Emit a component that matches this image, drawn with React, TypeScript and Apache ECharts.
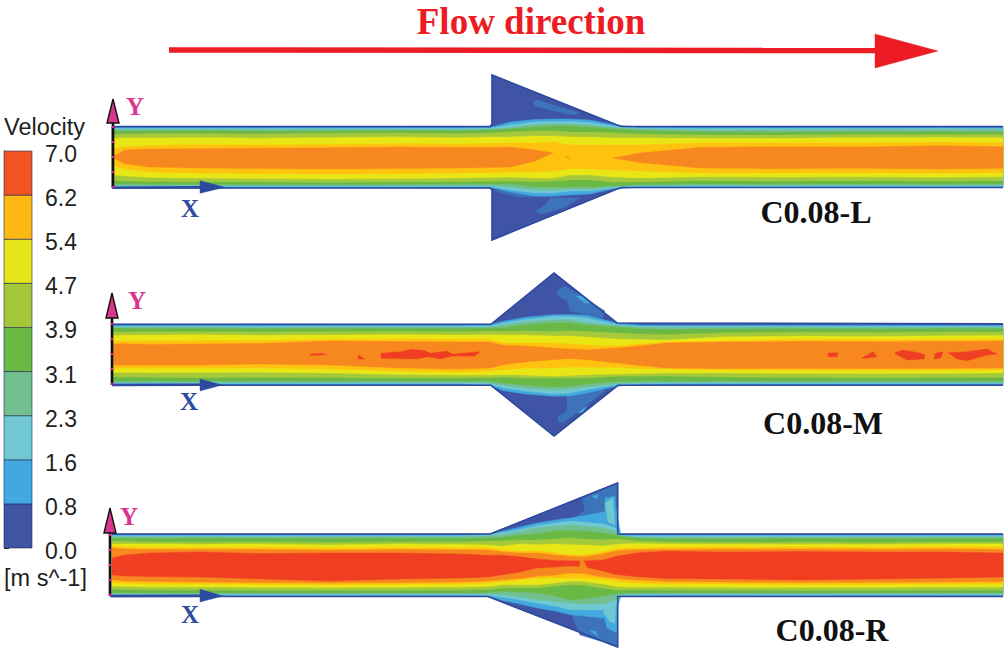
import React, { useEffect, useRef } from "react";
import * as echarts from "echarts";

// ---- legend ----
const LEGEND_TICKS = ["0.0", "0.8", "1.6", "2.3", "3.1", "3.9", "4.7", "5.4", "6.2", "7.0"];
const LEGEND_STEP = 7 / 9;
const LEGEND_COLORS = ["#3f55a4", "#41a9df", "#72c8d2", "#72bf8f", "#6ab945", "#a5c83b", "#e6e51b", "#fdb813", "#f15423"];

// ---- contour colours ----
const DARK = "#3f54a4";
const MEDIUM = "#3d74b9";
const BLUE = "#41a9df";
const CYAN = "#70c8d0";
const TEAL = "#72bf8f";
const GREEN = "#6ab945";
const YGREEN = "#a5c93a";
const YELLOW = "#e9e616";
const AMBER = "#ffc20e";
const ORANGE = "#f7871f";
const RED = "#f03e22";
const WALL = "#2c4a9f";
const BAND_COLORS = [BLUE, CYAN, TEAL, GREEN, YGREEN, YELLOW, AMBER, ORANGE, RED];

// ---- panel L ----
const L_X = [112, 125, 150, 200, 260, 330, 400, 460, 490, 510, 535, 553, 570, 590, 613, 640, 700, 780, 860, 940, 1003];
const L_BLUE_T = [127.4, 127.4, 127.4, 127.4, 127.4, 127.4, 127.4, 127.4, 127.4, 122, 119.5, 119, 119, 120, 124.5, 127.4, 127.4, 127.4, 127.4, 127.4, 127.4];
const L_CYAN_T = [128.4, 128.4, 128.5, 128.4, 128.5, 128.4, 128.3, 128.4, 128, 125, 122, 121.5, 121.5, 122.5, 126, 128.2, 128.4, 128.5, 128.4, 128.3, 128.4];
const L_TEAL_T = [129.5, 129.6, 129.6, 129.5, 129.7, 129.5, 129.4, 129.5, 129, 128, 124.5, 124, 124, 125, 127.5, 129, 130, 130, 129.8, 129.7, 129.8];
const L_GREEN_T = [131, 131.2, 131, 130.8, 131.3, 131, 130.6, 130.8, 130, 129, 127, 126, 126, 127.5, 129, 130.5, 132, 132.3, 132, 131.8, 132];
const L_YGREEN_T = [134.5, 134, 133.7, 133.4, 134, 133.3, 133, 133.5, 133, 132, 131, 131, 132, 132, 133, 134, 135, 135, 134.6, 134.4, 134.6];
const L_YELLOW_T = [138.5, 138, 138, 137.5, 138.2, 137.5, 137, 137.8, 137, 137, 136, 136, 137, 137, 138, 138, 138.3, 138.3, 137.8, 137.4, 137.8];
const L_AMBER_T = [149, 147, 145.5, 144.7, 145, 144.5, 143.7, 144, 143.5, 143, 143, 142, 145, 145, 145, 145, 143, 142.7, 143, 142.3, 142.8];
const L_ORANGE_T = [157, 150, 149, 148.7, 148.2, 147.8, 147, 147.5, 147.5, 147, 150, 153, 157, 157, 158, 153, 147.5, 146.7, 147, 145.8, 146.7];
const L_ORANGE_B = [157, 164, 167, 168, 168.6, 169, 168.6, 168, 167.5, 167, 161, 153, 157, 157, 158, 162.5, 168, 168.6, 168.3, 169, 168.3];
const L_AMBER_B = [165, 169, 172, 173, 173.5, 174, 173.5, 173, 172.5, 172, 172, 171.5, 168.5, 169, 170, 171, 172.7, 173, 172.7, 173.2, 172.7];
const L_YELLOW_B = [175, 176, 177.5, 178, 178.5, 179, 178.5, 178, 177.5, 177, 178, 178, 175, 175, 177, 178, 176.7, 177, 176.7, 177.2, 176.7];
const L_YGREEN_B = [180.5, 181, 181.5, 181.7, 182, 182.2, 182, 181.7, 181.3, 181, 181.7, 181, 180, 180, 182, 182, 180.7, 181, 180.7, 181, 180.7];
const L_GREEN_B = [184, 184, 184.2, 184.2, 184.4, 184.5, 184.3, 184.2, 184, 184, 186.7, 187, 187, 187, 185.5, 184.5, 184, 184.2, 184, 184.2, 184];
const L_TEAL_B = [185.5, 185.5, 185.5, 185.5, 185.6, 185.6, 185.5, 185.5, 185.5, 187, 190, 190, 189, 189, 187, 185.5, 185.2, 185.2, 185.2, 185.2, 185.2];
const L_CYAN_B = [186.5, 186.5, 186.5, 186.5, 186.6, 186.6, 186.5, 186.5, 186.5, 190, 193, 193, 191, 191, 188, 186.5, 186.6, 186.6, 186.6, 186.6, 186.6];
const L_BLUE_B = [187.4, 187.4, 187.4, 187.4, 187.4, 187.4, 187.4, 187.4, 187.5, 192, 196, 196, 195, 194, 189, 187.5, 187.4, 187.4, 187.4, 187.4, 187.4];
const L_WALL_T = [[112, 126.5], [490, 126.5], [492, 124], [492, 75], [617, 125], [622, 126.5], [1003, 126.5]];
const L_WALL_B = [[112, 188], [490, 188], [492, 190], [492, 240], [617, 189], [622, 187.5], [1003, 187.5]];
const L_PATCH_1 = [[533, 102], [538, 100], [553, 105], [580, 113], [573, 115], [550, 110], [535, 106]];
const L_PATCH_2 = [[535, 212], [547, 203], [550, 198], [580, 198], [563, 208], [542, 214]];
const L_PATCH_3 = [[495, 191], [517, 197], [560, 197], [540, 191]];
const L_SPECK_1 = [[565, 155], [570, 159], [566.7, 157.6]];

// ---- panel M ----
const M_X = [112, 125, 150, 200, 260, 330, 400, 460, 490, 503, 525, 553, 570, 587, 617, 640, 667, 720, 800, 880, 950, 1003];
const M_BLUE_T = [325.2, 325.2, 325.2, 325.2, 325.2, 325.2, 325.2, 325.2, 324.5, 321.3, 317.3, 314.7, 314.5, 315.3, 323, 325, 325.2, 325.2, 325.2, 325.2, 325.2, 325.2];
const M_CYAN_T = [326.3, 326.3, 326.3, 326.2, 326.4, 326.3, 326.2, 326.3, 326, 323, 319.5, 316.5, 316.5, 318, 324.5, 326.3, 326.3, 326.3, 326.2, 326.3, 326.3, 326.3];
const M_TEAL_T = [327.2, 327.2, 327.3, 327.2, 327.4, 327.2, 327.2, 327.2, 327, 325.3, 322, 320, 320, 323, 325.5, 327, 327.5, 327.4, 327.3, 327.4, 327.3, 327.3];
const M_GREEN_T = [328.5, 328.6, 328.5, 328.4, 328.7, 328.5, 328.3, 328.5, 328, 328, 325, 323, 323, 325.3, 327.3, 329, 329.7, 329, 328.8, 329, 328.8, 328.7];
const M_YGREEN_T = [332, 332, 331.8, 331.7, 332, 331.7, 331.5, 331.7, 331.3, 331.3, 331, 331.5, 331, 331.5, 333, 334, 334.5, 333, 332.2, 332.4, 332, 332];
const M_YELLOW_T = [335.5, 335.2, 335, 334.8, 335.2, 335, 334.7, 335, 334.8, 335, 335, 336, 336, 337, 339, 339.5, 340, 337, 336, 336.2, 335.8, 335.6];
const M_AMBER_T = [341.5, 341, 340.8, 340.5, 340.8, 339.5, 339, 339.5, 339.5, 343, 343, 343, 344, 345, 346, 344, 342, 341, 339.5, 339.8, 339.5, 339.3];
const M_ORANGE_T = [344, 343.7, 344.5, 344, 343.5, 341, 341.5, 342, 342, 345.3, 346, 348, 349, 350, 348, 346, 343, 342, 341.5, 341.7, 341.5, 341];
const M_ORANGE_B = [365, 365, 365, 365, 364, 365, 368, 369, 368, 364.7, 362, 359.7, 358.5, 359.7, 363, 365.5, 368, 368.5, 368.3, 368.5, 368.2, 368];
const M_AMBER_B = [368, 368, 368.3, 368, 368, 369, 371, 372, 371, 369.7, 368, 368, 367, 367.3, 367.3, 368.5, 369, 370, 370, 370.2, 370, 369.8];
const M_YELLOW_B = [372.5, 372.5, 372.7, 372.5, 372.3, 373, 374.5, 375, 375, 374.7, 375, 376.3, 375.5, 374.7, 374, 373.5, 373, 373, 373.5, 373.7, 373.3, 373];
const M_YGREEN_B = [377, 377, 377.3, 377.7, 377.3, 377.5, 378, 378, 377.7, 377.3, 378, 378, 378, 378, 376.3, 376.3, 376, 377, 377.5, 377.7, 377.4, 377.2];
const M_GREEN_B = [381, 381, 381, 381, 381, 381, 381, 381, 381, 383, 385, 387, 386, 384, 381.3, 381, 381, 381, 381, 381, 381, 381];
const M_TEAL_B = [382.5, 382.5, 382.5, 382.5, 382.5, 382.5, 382.5, 382.5, 383, 385.3, 388, 390, 389, 387, 383.7, 383, 382.6, 382.5, 382.5, 382.5, 382.5, 382.5];
const M_CYAN_B = [383.6, 383.6, 383.6, 383.6, 383.6, 383.6, 383.6, 383.7, 384.5, 388, 391, 394, 393, 389.7, 384.7, 383.8, 383.6, 383.6, 383.6, 383.6, 383.6, 383.6];
const M_BLUE_B = [384.6, 384.6, 384.6, 384.6, 384.6, 384.6, 384.6, 384.6, 385, 390.7, 394, 396.3, 396, 393, 386.3, 384.7, 384.6, 384.6, 384.6, 384.6, 384.6, 384.6];
const M_WALL_T = [[112, 324.3], [491, 324.3], [554, 273], [617, 323], [1003, 323.7]];
const M_WALL_B = [[112, 385.3], [491, 385.3], [554, 436], [618, 385.3], [1003, 385.3]];
const M_PATCH_1 = [[557, 291], [565, 286], [605, 311], [602, 318], [570, 311], [567, 301], [558, 296]];
const M_PATCH_2 = [[558, 421], [563, 423], [605, 391], [602, 388], [567, 396], [567, 411], [558, 416]];
const M_SPOT_1 = [[576, 296], [582, 296], [590, 303], [585, 303]];
const M_SPOT_2 = [[577, 413], [587, 406], [583, 412]];
const M_RED_1 = [[381, 353.3], [400, 351.7], [411.7, 349.3], [425, 350.7], [430, 353.3], [446.7, 351], [453, 354], [480, 351.7], [475, 356], [453, 356], [440, 359], [428, 356.7], [417, 359], [381, 358.3]];
const M_RED_2 = [[358.3, 355], [365, 359], [358, 359]];
const M_RED_3 = [[310, 354], [322, 353.5], [327, 355], [310, 355.2]];
const M_RED_4 = [[828, 353], [838, 352.7], [837, 356.7], [828, 356.7]];
const M_RED_5 = [[862, 358], [873, 351.7], [877, 356.7], [863, 358.5]];
const M_RED_6 = [[895, 352.7], [903, 350], [920, 353], [925, 355], [924, 359], [907, 360], [895, 354]];
const M_RED_7 = [[935, 354], [940, 351.7], [943, 352.7], [940.7, 358], [934, 359]];
const M_RED_8 = [[948, 352.7], [967, 351.7], [987, 349], [997, 354], [987, 355], [967, 360.7], [957, 359]];

// ---- panel R ----
const R_X = [112, 125, 150, 200, 260, 330, 400, 460, 488, 503, 520, 537, 555, 570, 583, 603, 616, 621, 637, 667, 720, 800, 880, 950, 1003];
const R_BLUE_T = [534.9, 534.9, 534.9, 534.9, 534.9, 534.9, 534.9, 534.9, 534.5, 531, 527, 523, 520, 518, 516, 512, 509, 535, 535, 534.9, 534.9, 534.9, 534.9, 534.9, 534.9];
const R_CYAN_T = [535.7, 535.7, 535.8, 535.7, 535.8, 535.7, 535.7, 535.7, 535, 532.3, 529.5, 525.5, 523, 521, 522, 524, 528, 535.7, 535.8, 535.8, 535.8, 535.8, 535.8, 535.8, 535.8];
const R_TEAL_T = [536.7, 536.8, 536.7, 536.7, 536.8, 536.7, 536.6, 536.7, 536, 534.7, 532, 528, 526.5, 525, 526, 528, 531, 536, 537.3, 537.2, 537, 536.9, 537, 536.8, 536.8];
const R_GREEN_T = [538.5, 538.5, 538.4, 538.3, 538.6, 538.4, 538.3, 538.5, 538, 537.3, 535, 534, 531, 530.7, 531, 533, 535, 536, 538, 539, 539, 538.5, 538.7, 538.5, 538.5];
const R_YGREEN_T = [541, 541.5, 542, 542.3, 542, 542.5, 542, 542, 541, 541, 540, 540, 539, 538, 539, 540, 539, 539.5, 541, 542, 542.5, 542.3, 542.5, 542, 542];
const R_YELLOW_T = [544, 544, 544, 544.3, 544, 545, 544, 544.5, 545, 546.3, 544, 544.7, 544, 544.7, 545, 546, 544.5, 544, 543.5, 544, 544.2, 544.3, 544.5, 544, 544];
const R_AMBER_T = [546, 547, 547.5, 547.7, 547.3, 548.2, 547.7, 548, 548, 549.7, 551, 551, 553, 555, 555, 552, 549, 548.5, 548, 547.2, 547, 547, 547.2, 546.8, 547];
const R_ORANGE_T = [548, 549, 549.5, 549.3, 549.5, 550, 549.5, 549.7, 550, 552, 553, 553, 555, 556.3, 557, 554, 551, 550.5, 549.7, 549.5, 549, 549, 549.2, 549, 549.5];
const R_RED_T = [558, 555, 553, 552, 553.5, 553, 553, 554, 555.3, 555.3, 556.7, 559, 560.5, 560.7, 561, 560, 556.5, 555.5, 553, 551, 552, 551.5, 552, 552, 553];
const R_RED_B = [575, 576, 576.5, 577, 579, 581, 579, 578, 577, 574.7, 572, 568, 567, 566, 566.5, 571, 574.5, 575, 576.7, 578.5, 579, 580, 579, 578, 577];
const R_ORANGE_B = [580, 581, 581.5, 582, 582.5, 583, 582.5, 582, 581, 579.7, 578.5, 576.3, 575, 573, 573.5, 577, 578, 579, 580, 581.5, 582, 582.5, 582.3, 582, 581.5];
const R_AMBER_B = [582.5, 583.3, 583.8, 584, 584.3, 585, 584.3, 584, 583, 581.3, 580, 578, 578, 578, 578, 579, 581, 582, 583, 584, 584, 584.5, 584.3, 584, 583.8];
const R_YELLOW_B = [586, 586.5, 587, 587, 587.3, 587.5, 587.3, 587, 586.5, 584.7, 584.7, 584.7, 583, 581.3, 581.5, 584, 586.5, 587, 587, 587, 587.3, 587.5, 587.3, 587, 587];
const R_YGREEN_B = [589, 589.5, 590, 590, 590.3, 590.3, 590.2, 590, 589.5, 588, 588, 588, 586, 584.7, 585, 588, 590, 590, 590, 590, 590.2, 590.4, 590.2, 590, 590];
const R_GREEN_B = [592.5, 592.6, 592.7, 592.7, 592.8, 592.8, 592.7, 592.7, 592.5, 591.3, 592, 593, 596, 599.7, 599, 596, 593.5, 593, 592.7, 592.6, 592.7, 592.8, 592.7, 592.6, 592.6];
const R_TEAL_B = [594, 594, 594, 594, 594, 594, 594, 594, 594, 594.7, 597, 599.7, 601.5, 603, 604, 604, 600, 594.5, 593.9, 593.9, 594, 594, 594, 594, 594];
const R_CYAN_B = [595.2, 595.2, 595.2, 595.2, 595.2, 595.2, 595.2, 595.2, 595.3, 597.3, 600, 603, 606, 609.7, 610, 610, 606, 595.4, 595.3, 595.2, 595.2, 595.2, 595.2, 595.2, 595.2];
const R_BLUE_B = [595.8, 595.8, 595.8, 595.8, 595.8, 595.8, 595.8, 595.8, 596, 600.7, 604, 608, 611, 614.7, 616, 618, 612, 596, 596, 595.8, 595.8, 595.8, 595.8, 595.8, 595.8];
const R_WALL_T = [[112, 534], [490, 534], [617.7, 483], [617.7, 534], [1003, 534]];
const R_WALL_B = [[112, 596.5], [488, 596.5], [617.7, 647], [617.7, 596.5], [1003, 596.5]];
const R_PATCH_1 = [[582, 498], [597, 491], [617, 484], [617, 534], [570, 520], [585, 511]];
const R_PATCH_2 = [[605, 498], [615, 496], [617, 533], [605, 517]];
const R_PATCH_3 = [[605, 503], [613, 498], [615, 525], [608, 522]];
const R_SPOT_1 = [[592, 496], [598, 495], [597, 499]];
const R_PATCH_4 = [[580, 635], [617, 646], [617, 597], [570, 611]];
const R_PATCH_5 = [[603, 613], [617, 600], [617, 633], [607, 628]];
const R_PATCH_6 = [[603, 612], [616, 600], [615, 623], [610, 622]];
const R_SPOT_2 = [[590, 631], [598, 636], [595, 631]];
const R_SLIVER = [[580, 559.7], [583, 559.7], [590, 573], [585, 570], [580, 568]];

// ---- axis glyphs and flow arrow ----
const FLOW_LINE = [[169, 50], [876, 50.5]];
const FLOW_HEAD = [[875, 34], [938, 51], [875, 68]];
const L_X_LINE = [[112, 187.6], [205, 187.2]];
const L_X_HEAD = [[200, 180.7], [225, 187.3], [200, 193.3]];
const L_Y_LINE = [[113, 188], [113, 122]];
const L_Y_HEAD = [[107, 123], [113, 99], [119, 123]];
const M_X_LINE = [[112, 385], [205, 384.8]];
const M_X_HEAD = [[200, 379], [222, 385], [200, 391]];
const M_Y_LINE = [[112, 385], [112, 318]];
const M_Y_HEAD = [[106, 318], [112, 293], [118, 318]];
const R_X_LINE = [[110, 596], [205, 595.8]];
const R_X_HEAD = [[200, 589.3], [223, 596], [200, 602]];
const R_Y_LINE = [[110, 596], [110, 533]];
const R_Y_HEAD = [[104, 533], [110, 508], [116, 533]];

// ---- texts ----
const TITLE = "Flow direction";
const CASE_LABELS = ["C0.08-L", "C0.08-M", "C0.08-R"];
const LEGEND_TITLE = "Velocity";
const LEGEND_UNIT = "[m s^-1]";

type Shape = { pts: number[][]; fill?: string; stroke?: string; lw?: number; dash?: number[] };

function bands(xs: number[], tops: number[][], bots: number[][]): Shape[] {
  const out: Shape[] = [];
  tops.forEach((top, k) => {
    const bot = bots[k];
    let run: number[] = [];
    const flush = () => {
      if (run.length > 1) {
        const pts = run.map((i) => [xs[i], top[i]]).concat(run.slice().reverse().map((i) => [xs[i], bot[i]]));
        out.push({ pts, fill: BAND_COLORS[k], stroke: BAND_COLORS[k], lw: 0.4 });
      }
      run = [];
    };
    xs.forEach((_, i) => {
      const open = (j: number) => j >= 0 && j < xs.length && bot[j] - top[j] > 0;
      if (open(i) || open(i - 1) || open(i + 1)) run.push(i);
      else flush();
    });
    flush();
  });
  return out;
}

const fillOf = (pts: number[][], fill: string): Shape => ({ pts, fill, stroke: fill, lw: 0.4 });
const glyph = (line: number[][], head: number[][], color: string): Shape[] => [
  { pts: line, stroke: color, lw: 2.4 },
  fillOf(head, color),
];
const yGlyph = (line: number[][], head: number[][]): Shape[] => [
  { pts: line, stroke: "#111111", lw: 2.6 },
  { pts: line, stroke: "#e0218a", lw: 2.6, dash: [2, 13] },
  { pts: head, fill: "#d9368f", stroke: "#111111", lw: 1.4 },
];
const body = (t: number[][], b: number[][]): Shape => fillOf(t.concat(b.slice().reverse()), DARK);
const walls = (t: number[][], b: number[][]): Shape[] => [
  { pts: t, stroke: WALL, lw: 1.6 },
  { pts: b, stroke: WALL, lw: 1.6 },
];

const SHAPES: Shape[] = [
  { pts: FLOW_LINE, stroke: "#ed1c24", lw: 5.5 },
  fillOf(FLOW_HEAD, "#ed1c24"),
  // L
  body(L_WALL_T, L_WALL_B),
  fillOf(L_PATCH_1, MEDIUM), fillOf(L_PATCH_2, MEDIUM), fillOf(L_PATCH_3, MEDIUM),
  ...bands(L_X,
    [L_BLUE_T, L_CYAN_T, L_TEAL_T, L_GREEN_T, L_YGREEN_T, L_YELLOW_T, L_AMBER_T, L_ORANGE_T],
    [L_BLUE_B, L_CYAN_B, L_TEAL_B, L_GREEN_B, L_YGREEN_B, L_YELLOW_B, L_AMBER_B, L_ORANGE_B]),
  fillOf(L_SPECK_1, ORANGE),
  ...walls(L_WALL_T, L_WALL_B),
  ...glyph(L_X_LINE, L_X_HEAD, WALL),
  ...yGlyph(L_Y_LINE, L_Y_HEAD),
  // M
  body(M_WALL_T, M_WALL_B),
  fillOf(M_PATCH_1, MEDIUM), fillOf(M_PATCH_2, MEDIUM), fillOf(M_SPOT_1, BLUE), fillOf(M_SPOT_2, BLUE),
  ...bands(M_X,
    [M_BLUE_T, M_CYAN_T, M_TEAL_T, M_GREEN_T, M_YGREEN_T, M_YELLOW_T, M_AMBER_T, M_ORANGE_T],
    [M_BLUE_B, M_CYAN_B, M_TEAL_B, M_GREEN_B, M_YGREEN_B, M_YELLOW_B, M_AMBER_B, M_ORANGE_B]),
  ...[M_RED_1, M_RED_2, M_RED_3, M_RED_4, M_RED_5, M_RED_6, M_RED_7, M_RED_8].map((p) => fillOf(p, RED)),
  ...walls(M_WALL_T, M_WALL_B),
  ...glyph(M_X_LINE, M_X_HEAD, WALL),
  ...yGlyph(M_Y_LINE, M_Y_HEAD),
  // R
  body(R_WALL_T, R_WALL_B),
  fillOf(R_PATCH_1, MEDIUM), fillOf(R_PATCH_4, MEDIUM), fillOf(R_PATCH_2, BLUE), fillOf(R_PATCH_5, BLUE),
  ...bands(R_X,
    [R_BLUE_T, R_CYAN_T, R_TEAL_T, R_GREEN_T, R_YGREEN_T, R_YELLOW_T, R_AMBER_T, R_ORANGE_T, R_RED_T],
    [R_BLUE_B, R_CYAN_B, R_TEAL_B, R_GREEN_B, R_YGREEN_B, R_YELLOW_B, R_AMBER_B, R_ORANGE_B, R_RED_B]),
  fillOf(R_PATCH_3, CYAN), fillOf(R_PATCH_6, CYAN), fillOf(R_SPOT_1, BLUE), fillOf(R_SPOT_2, BLUE),
  fillOf(R_SLIVER, ORANGE),
  ...walls(R_WALL_T, R_WALL_B),
  ...glyph(R_X_LINE, R_X_HEAD, WALL),
  ...yGlyph(R_Y_LINE, R_Y_HEAD),
];

type Label = { x: number; y: number; text: string; color: string; size: number; serif: boolean };
const SERIF = "'Liberation Serif', serif";
const SANS = "'Liberation Sans', sans-serif";
const LABELS: Label[] = [
  { x: 531, y: 21, text: TITLE, color: "#ed1c24", size: 37, serif: true },
  { x: 816, y: 212, text: CASE_LABELS[0], color: "#111111", size: 32, serif: true },
  { x: 823, y: 423, text: CASE_LABELS[1], color: "#111111", size: 32, serif: true },
  { x: 832, y: 630, text: CASE_LABELS[2], color: "#111111", size: 32, serif: true },
  { x: 135, y: 106, text: "Y", color: "#d9368f", size: 25, serif: true },
  { x: 137, y: 300, text: "Y", color: "#d9368f", size: 25, serif: true },
  { x: 129, y: 516, text: "Y", color: "#d9368f", size: 25, serif: true },
  { x: 190, y: 208, text: "X", color: "#2f4da0", size: 25, serif: true },
  { x: 189, y: 401, text: "X", color: "#2f4da0", size: 25, serif: true },
  { x: 190, y: 614, text: "X", color: "#2f4da0", size: 25, serif: true },
  { x: 44.5, y: 127, text: LEGEND_TITLE, color: "#231f20", size: 23.5, serif: false },
  { x: 45.5, y: 578, text: LEGEND_UNIT, color: "#231f20", size: 23.5, serif: false },
];

export default function App() {
  const ref = useRef<HTMLDivElement>(null);
  useEffect(() => {
    const chart = echarts.init(ref.current!, undefined, { renderer: "svg" });
    chart.setOption({
      animation: false,
      backgroundColor: "#ffffff",
      grid: [
        { left: 0, top: 0, width: 1005, height: 652 },
        { left: 4, top: 151, width: 28, height: 397 },
      ],
      xAxis: [
        { type: "value", gridIndex: 0, min: 0, max: 1005, show: false },
        { type: "value", gridIndex: 1, min: 0, max: 1, show: false },
      ],
      yAxis: [
        { type: "value", gridIndex: 0, min: 0, max: 652, inverse: true, show: false },
        {
          type: "value",
          gridIndex: 1,
          position: "right",
          min: 0,
          max: 7,
          interval: LEGEND_STEP,
          splitLine: { show: false },
          axisLine: { show: true, lineStyle: { color: "#1c2a5a", width: 1 } },
          axisTick: { show: true, length: 5, lineStyle: { color: "#333333", width: 1 } },
          axisLabel: { show: false },
        },
      ],
      series: [
        {
          type: "custom",
          xAxisIndex: 1,
          yAxisIndex: 1,
          silent: true,
          encode: { x: 0, y: 1 },
          data: LEGEND_COLORS.map((_, i) => [0, i * LEGEND_STEP, i]),
          renderItem: (_: any, api: any) => {
            const i = api.value(2);
            const a = api.coord([0, i * LEGEND_STEP]);
            const b = api.coord([1, (i + 1) * LEGEND_STEP]);
            return {
              type: "rect",
              shape: { x: a[0], y: b[1], width: b[0] - a[0], height: a[1] - b[1] },
              style: { fill: LEGEND_COLORS[i], stroke: "#1c2a5a", lineWidth: 0.6 },
            };
          },
        },
        {
          type: "custom",
          xAxisIndex: 1,
          yAxisIndex: 1,
          silent: true,
          encode: { x: 0, y: 1 },
          data: LEGEND_TICKS.map((_, i) => [1, i * LEGEND_STEP, i]),
          renderItem: (_: any, api: any) => {
            const i = api.value(2);
            const p = api.coord([1, i * LEGEND_STEP]);
            return {
              type: "text",
              x: p[0] + 13,
              y: p[1] + 3,
              style: {
                text: LEGEND_TICKS[i],
                fill: "#231f20",
                align: "left",
                verticalAlign: "middle",
                font: `23px ${SANS}`,
              },
            };
          },
        },
        {
          type: "custom",
          xAxisIndex: 0,
          yAxisIndex: 0,
          silent: true,
          encode: { x: 0, y: 1 },
          data: SHAPES.map((s, i) => [s.pts[0][0], s.pts[0][1], i]),
          renderItem: (_: any, api: any) => {
            const s = SHAPES[api.value(2)];
            const points = s.pts.map((p) => api.coord(p));
            return {
              type: s.fill ? "polygon" : "polyline",
              shape: { points },
              style: {
                fill: s.fill || "none",
                stroke: s.stroke || "none",
                lineWidth: s.lw || 0,
                lineDash: s.dash,
              },
            };
          },
        },
        {
          type: "custom",
          xAxisIndex: 0,
          yAxisIndex: 0,
          silent: true,
          encode: { x: 0, y: 1 },
          data: LABELS.map((l, i) => [l.x, l.y, i]),
          renderItem: (_: any, api: any) => {
            const l = LABELS[api.value(2)];
            const p = api.coord([l.x, l.y]);
            return {
              type: "text",
              x: p[0],
              y: p[1],
              style: {
                text: l.text,
                fill: l.color,
                align: "center",
                verticalAlign: "middle",
                font: `${l.serif ? "bold " : ""}${l.size}px ${l.serif ? SERIF : SANS}`,
              },
            };
          },
        },
      ],
    });
    return () => chart.dispose();
  }, []);
  return <div ref={ref} style={{ position: "fixed", left: 0, top: 0, width: 1005, height: 652 }} />;
}
